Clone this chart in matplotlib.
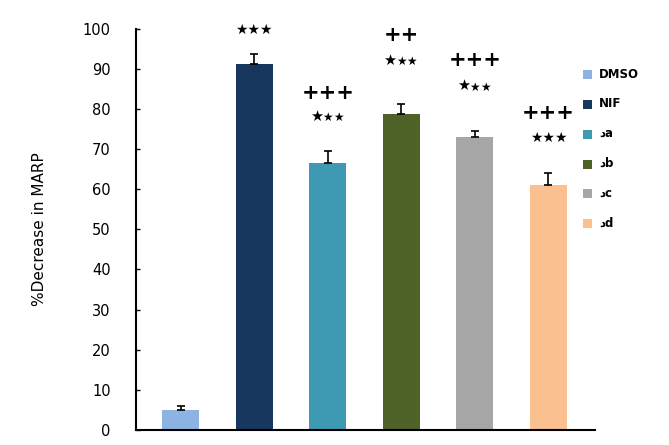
import matplotlib
matplotlib.use("Agg")
import matplotlib.pyplot as plt
from matplotlib.patches import Rectangle

categories = ["DMSO", "NIF", "\u062fa", "\u062fb", "\u062fc", "\u062fd"]
values = [5, 91.2, 66.5, 78.7, 73, 61]
errors = [1, 2.5, 3, 2.7, 1.5, 3]
colors = ["#8db3e2", "#17375e", "#3e9ab2", "#4f6228", "#a6a6a6", "#fac090"]
plus_labels = ["", "", "+++", "++", "+++", "+++"]
star_labels = ["", "***", "***", "***", "***", "***"]
star_big_first = [False, False, True, True, True, False]
yticks = [0, 10, 20, 30, 40, 50, 60, 70, 80, 90, 100]

fig = plt.figure(figsize=(6.69, 4.45), dpi=100)
ax = fig.add_axes([0.203, 0.034, 0.686, 0.901])

x = list(range(len(categories)))
ax.bar(x, values, width=0.5, color=colors, zorder=2)
ax.errorbar(x, values, yerr=[[0]*len(errors), errors], fmt='none', ecolor='black',
            elinewidth=1.2, capsize=3, capthick=1.2, zorder=3)

ax.set_xlim(-0.61, 5.63)
ax.set_ylim(0, 100)
ax.set_yticks(yticks)
ax.set_yticklabels([str(t) for t in yticks], fontsize=10.5, family="DejaVu Sans")
ax.tick_params(axis='y', direction='in', length=3, width=1, pad=18)
ax.set_xticks([])
for s in ["top", "right"]:
    ax.spines[s].set_visible(False)
ax.spines["left"].set_linewidth(1.5)
ax.spines["bottom"].set_linewidth(1.5)
ax.set_ylabel("%Decrease in MARP", fontsize=11, labelpad=26)

# annotation heights (data units)
plus_y = [None, None, 84, 98.5, 92.3, 79]
star_y = [None, 99.8, 77.8, 91.8, 85.5, 72.8]
for i in x:
    if plus_labels[i]:
        ax.text(i, plus_y[i], plus_labels[i], ha='center', va='center',
                fontsize=15, fontweight='bold', family="DejaVu Sans", clip_on=False)
    if star_labels[i]:
        y = star_y[i]
        if star_big_first[i]:
            ax.text(i - 0.155, y + 0.4, "\u2605", ha='center', va='center', fontsize=10.5, clip_on=False)
            ax.text(i + 0.0, y, "\u2605", ha='center', va='center', fontsize=8.5, clip_on=False)
            ax.text(i + 0.145, y, "\u2605", ha='center', va='center', fontsize=8.5, clip_on=False)
        else:
            ax.text(i, y, "\u2605\u2605\u2605", ha='center', va='center', fontsize=10, clip_on=False)

# legend
for k, (lab, c) in enumerate(zip(categories, colors)):
    ypix = 74 + k * 29.8
    yf = 1 - ypix / 445
    fig.patches.append(Rectangle((0.872, yf - 0.0115), 0.0135, 0.02, transform=fig.transFigure,
                                 facecolor=c, edgecolor='none'))
    fig.text(0.895, yf, lab, ha='left', va='center', fontsize=8.5, fontweight='bold',
             family=["DejaVu Sans"])

fig.savefig("out.png", dpi=100)
